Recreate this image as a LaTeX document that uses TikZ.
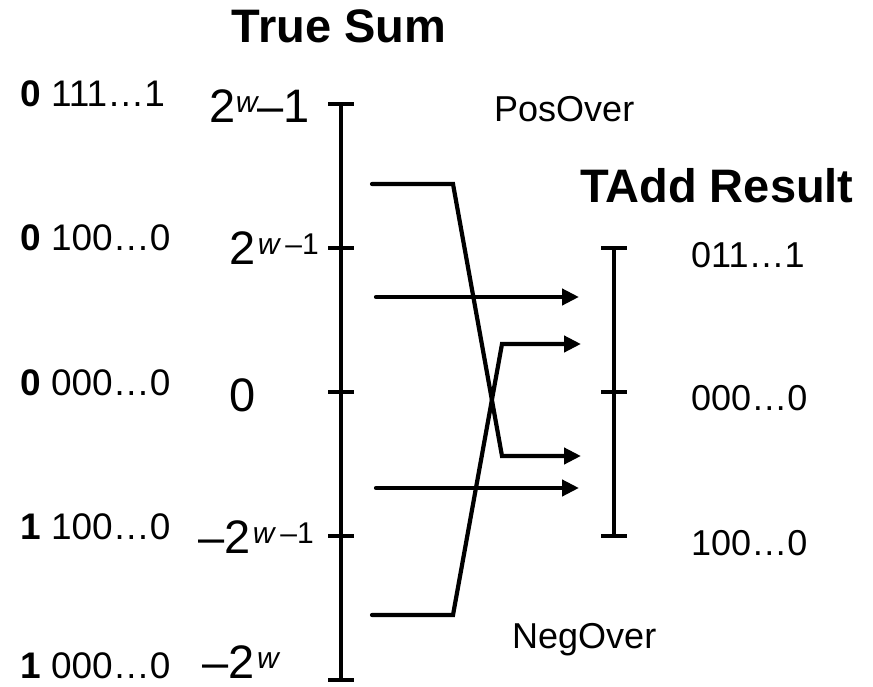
\documentclass[tikz,border=0pt]{standalone}
\usepackage{fontspec}
\setmainfont{Liberation Sans}
\usetikzlibrary{arrows.meta}
\newcommand{\fsz}[1]{\fontsize{#1}{#1}\selectfont}
\newcommand{\supw}[1]{\raisebox{10pt}{\fsz{30}#1}}
\tikzset{
  axisline/.style={line width=4.2pt, line cap=butt},
  conn/.style={line width=4.2pt, line cap=round, line join=miter, -{Triangle[length=17pt,width=16pt]}},
  wrapconn/.style={line width=4.2pt, line cap=round, line join=miter, -{Triangle[length=17pt,width=16pt]}},
  title/.style={inner sep=0pt, anchor=base, font=\fsz{47}\bfseries},
  binlbl/.style={inner sep=0pt, anchor=base west, font=\fsz{37}},
  rlbl/.style={inner sep=0pt, anchor=base west, font=\fsz{36}},
  vallbl/.style={inner sep=0pt, anchor=base east, font=\fsz{47}},
  ovlbl/.style={inner sep=0pt, anchor=base west, font=\fsz{36}}
}
\begin{document}
\begin{tikzpicture}[x=1pt,y=-1pt]
\useasboundingbox (0,0) rectangle (873,687);
\fill[white] (0,0) rectangle (873,687);

% titles
\node[title] (tsum) at (339,43) {True Sum};
\node[title] (tadd) at (717,203) {TAdd Result};
\node[ovlbl] (pos) at (494,122) {PosOver};
\node[ovlbl] (neg) at (512,648) {NegOver};

% left binary labels
\node[binlbl] (b1) at (20,107) {\textbf{0} 111…1};
\node[binlbl] (b2) at (20,251) {\textbf{0} 100…0};
\node[binlbl] (b3) at (20,395) {\textbf{0} 000…0};
\node[binlbl] (b4) at (20,539) {\textbf{1} 100…0};
\node[binlbl] (b5) at (20,678) {\textbf{1} 000…0};

% value labels
\node[vallbl] (v1) at (310,123) {2\supw{\itshape w}–1};
\node[vallbl] (v2) at (319,265) {2\kern2pt\supw{{\itshape w}\kern6pt–1}};
\node[inner sep=0pt, anchor=base, font=\fsz{47}] (v3) at (243,411) {0};
\node[vallbl] (v4) at (314,553) {–2\kern2pt\supw{{\itshape w}\kern6pt–1}};
\node[vallbl] (v5) at (279,678) {–2\kern2pt\supw{\itshape w}};

% right labels
\node[rlbl] (r1) at (691,267) {011…1};
\node[rlbl] (r2) at (691,410) {000…0};
\node[rlbl] (r3) at (691,555) {100…0};

% left axis
\coordinate (lt) at (341,104);
\coordinate (lb) at (341,680);
\draw[axisline] (lt) -- (lb);
\foreach \y/\n in {104/1,248/2,392/3,536/4,680/5}{
  \coordinate (lta\n) at (328,\y);
  \coordinate (ltb\n) at (354,\y);
  \draw[axisline] (lta\n) -- (ltb\n);
}

% right axis
\coordinate (rt) at (614,248);
\coordinate (rb) at (614,536);
\draw[axisline] (rt) -- (rb);
\foreach \y/\n in {248/1,392/2,536/3}{
  \coordinate (rta\n) at (601,\y);
  \coordinate (rtb\n) at (627,\y);
  \draw[axisline] (rta\n) -- (rtb\n);
}

% connectors
\coordinate (p0) at (372,184);
\coordinate (p1) at (453,184);
\coordinate (p2) at (502,456);
\coordinate (p3) at (581,456);
\draw[wrapconn] (p0) -- (p1) -- (p2) -- (p3);

\coordinate (n0) at (372,615);
\coordinate (n1) at (453,615);
\coordinate (n2) at (502,344);
\coordinate (n3) at (581,344);
\draw[wrapconn] (n0) -- (n1) -- (n2) -- (n3);

\coordinate (s0) at (376,297);
\coordinate (s1) at (579,297);
\draw[conn] (s0) -- (s1);

\coordinate (t0) at (376,488);
\coordinate (t1) at (579,488);
\draw[conn] (t0) -- (t1);
\end{tikzpicture}
\end{document}
